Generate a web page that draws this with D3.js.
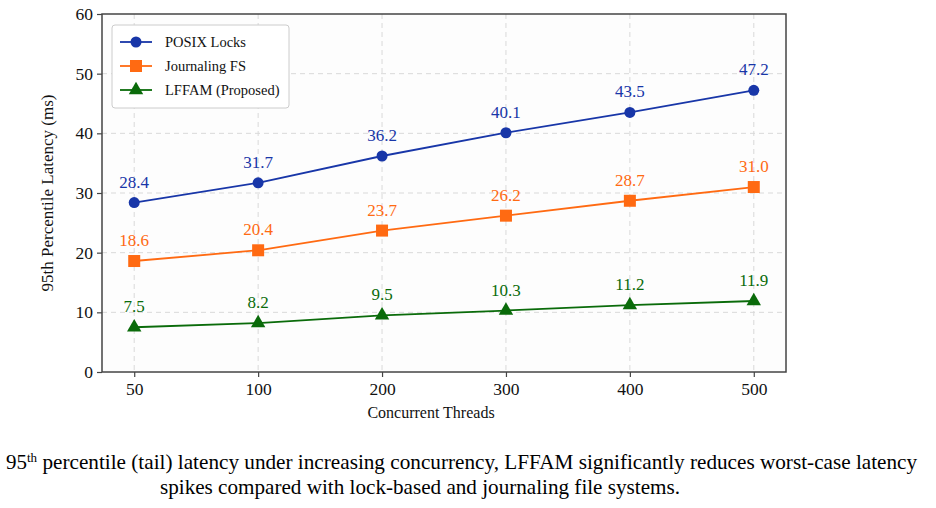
<!DOCTYPE html>
<html><head><meta charset="utf-8">
<script src="https://cdn.jsdelivr.net/npm/d3@7"></script>
<style>body{margin:0;background:#fff}svg{display:block}</style>
</head><body>
<svg id="c" width="936" height="508"></svg>
<script>
const categories = ["50","100","200","300","400","500"];
const posix = [28.4,31.7,36.2,40.1,43.5,47.2];
const journal = [18.6,20.4,23.7,26.2,28.7,31.0];
const lffam = [7.5,8.2,9.5,10.3,11.2,11.9];
const yTicks = [0,10,20,30,40,50,60];
const seriesNames = ["POSIX Locks","Journaling FS","LFFAM (Proposed)"];
const seriesColors = ["#1836a8","#ff6a12","#0a6b0a"];
const seriesShapes = ["circle","square","triangle"];

const svg = d3.select("#c");
const L=102,R=786,T=14,B=372;
const serif = "'Liberation Serif','Times New Roman',serif";

svg.append("rect").attr("x",L).attr("y",T).attr("width",R-L).attr("height",B-T).attr("fill","#fdfdfd");

const x = d3.scalePoint().domain(categories).range([L,R]).padding(0.26);
const y = d3.scaleLinear().domain([0,60]).range([B,T]);

// grid
const g = svg.append("g");
g.selectAll(".hg").data(yTicks.slice(1,-1)).enter().append("line")
 .attr("x1",L).attr("x2",R).attr("y1",d=>y(d)).attr("y2",d=>y(d))
 .attr("stroke","#d9d9d9").attr("stroke-dasharray","5,4").attr("stroke-width",1);
g.selectAll(".vg").data(categories).enter().append("line")
 .attr("x1",d=>x(d)).attr("x2",d=>x(d)).attr("y1",T).attr("y2",B)
 .attr("stroke","#d9d9d9").attr("stroke-dasharray","5,4").attr("stroke-width",1);

// axes
const yAxis = svg.append("g").attr("transform",`translate(${L},0)`)
 .call(d3.axisLeft(y).tickValues(yTicks).tickSize(5).tickPadding(4));
const xAxis = svg.append("g").attr("transform",`translate(0,${B})`)
 .call(d3.axisBottom(x).tickSize(5).tickPadding(6));
[yAxis,xAxis].forEach(a=>{
 a.select(".domain").remove();
 a.selectAll("line").attr("stroke","#444").attr("stroke-width",1.2);
 a.selectAll("text").attr("font-family",serif).attr("font-size",17.5).attr("fill","#111");
});
svg.append("rect").attr("x",L).attr("y",T).attr("width",R-L).attr("height",B-T)
 .attr("fill","none").attr("stroke","#444").attr("stroke-width",1.5);

// series
const allSeries=[posix,journal,lffam];
const line = d3.line().x((d,i)=>x(categories[i])).y(d=>y(d));
function marker(sel,shape,color){
 if(shape==="circle") sel.append("circle").attr("r",5.5).attr("fill",color);
 else if(shape==="square") sel.append("rect").attr("x",-6).attr("y",-6).attr("width",12).attr("height",12).attr("fill",color);
 else sel.append("path").attr("d",d3.symbol().type(d3.symbolTriangle).size(90)()).attr("fill",color);
}
allSeries.forEach((vals,si)=>{
 const c=seriesColors[si];
 svg.append("path").datum(vals).attr("d",line).attr("fill","none").attr("stroke",c).attr("stroke-width",1.8);
 vals.forEach((v,i)=>{
  const m=svg.append("g").attr("transform",`translate(${x(categories[i])},${y(v)})`);
  marker(m,seriesShapes[si],c);
  svg.append("text").attr("x",x(categories[i])).attr("y",y(v)-15).attr("text-anchor","middle")
   .attr("font-family",serif).attr("font-size",17).attr("fill",c).text(v.toFixed(1));
 });
});

// legend
const lg=svg.append("g");
lg.append("rect").attr("x",112).attr("y",25).attr("width",177).attr("height",83).attr("rx",3)
 .attr("fill","#fff").attr("stroke","#ccc").attr("stroke-width",1);
seriesNames.forEach((n,i)=>{
 const yy=42+i*24, c=seriesColors[i];
 lg.append("line").attr("x1",120).attr("x2",152).attr("y1",yy).attr("y2",yy).attr("stroke",c).attr("stroke-width",1.8);
 const m=lg.append("g").attr("transform",`translate(136,${yy})`);
 marker(m,seriesShapes[i],c);
 lg.append("text").attr("x",165).attr("y",yy+5).attr("font-family",serif).attr("font-size",14.5).attr("fill","#111").text(n);
});

// axis titles
svg.append("text").attr("transform",`translate(53,${(T+B)/2}) rotate(-90)`).attr("text-anchor","middle")
 .attr("font-family",serif).attr("font-size",17).attr("fill","#111").text("95th Percentile Latency (ms)");
svg.append("text").attr("x",431).attr("y",418).attr("text-anchor","middle")
 .attr("font-family",serif).attr("font-size",16).attr("fill","#111").text("Concurrent Threads");

// caption
const cap1=svg.append("text").attr("x",6).attr("y",469).attr("font-family",serif).attr("font-size",21).attr("fill","#000");
cap1.append("tspan").text("95");
cap1.append("tspan").attr("dy",-7).attr("font-size",13).text("th");
cap1.append("tspan").attr("dy",7).attr("textLength",880).attr("lengthAdjust","spacingAndGlyphs")
 .text(" percentile (tail) latency under increasing concurrency, LFFAM significantly reduces worst-case latency");
svg.append("text").attr("x",160).attr("y",494).attr("font-family",serif).attr("font-size",21).attr("fill","#000")
 .attr("textLength",520).attr("lengthAdjust","spacingAndGlyphs")
 .text("spikes compared with lock-based and journaling file systems.");
</script>
</body></html>
